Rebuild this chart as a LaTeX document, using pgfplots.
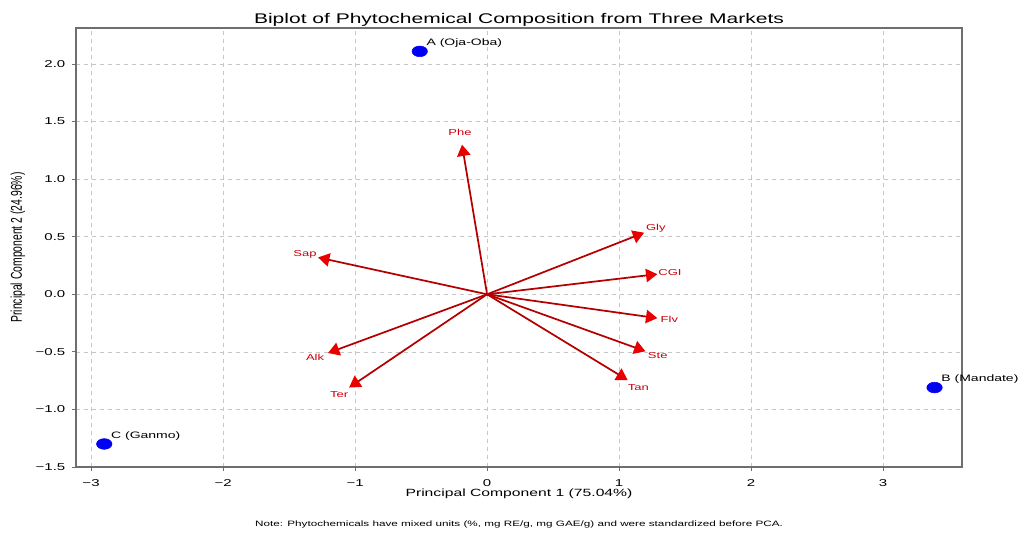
\documentclass[border=0pt]{standalone}
\usepackage{fontspec}
\setmainfont[FakeStretch=1.5]{Liberation Sans}
\newfontfamily\plainsans{Liberation Sans}
\usepackage{graphicx}
\usepackage{pgfplots}
\usepackage{pgfplotstable}
\pgfplotsset{compat=1.18}
\usetikzlibrary{arrows.meta}
\definecolor{shaft}{RGB}{180,0,0}
\definecolor{headred}{RGB}{232,0,0}
\definecolor{lblred}{RGB}{205,0,10}
\definecolor{ptblue}{RGB}{0,0,245}
\definecolor{frame}{RGB}{110,110,110}

\pgfplotstableread{
x y name
-0.51 2.11 {A (Oja-Oba)}
3.39 -0.81 {B (Mandate)}
-2.90 -1.30 {C (Ganmo)}
}\markets

\pgfplotstableread{
x y u v
0 0 -0.19 1.30
0 0 1.19 0.535
0 0 1.29 0.175
0 0 1.29 -0.207
0 0 1.20 -0.495
0 0 1.065 -0.745
0 0 -1.045 -0.81
0 0 -1.205 -0.51
0 0 -1.28 0.32
}\loadings

\pgfplotstableread{
x y name
-0.205 1.403 Phe
1.278 0.571 Gly
1.386 0.188 CGI
1.381 -0.220 Flv
1.293 -0.536 Ste
1.146 -0.806 Tan
-1.121 -0.870 Ter
-1.303 -0.545 Alk
-1.379 0.348 Sap
}\loadlabels

\begin{document}
\begin{tikzpicture}
\useasboundingbox (0,0) rectangle (765pt,399pt);
\begin{axis}[
  at={(57pt,48.75pt)}, anchor=south west,
  width=664.5pt, height=329.25pt, scale only axis,
  xmin=-3.114, xmax=3.598, ymin=-1.5, ymax=2.313,
  xtick={-3,-2,-1,0,1,2,3},
  xticklabels={−3,−2,−1,0,1,2,3},
  ytick={-1.5,-1,-0.5,0,0.5,1,1.5,2},
  yticklabels={−1.5,−1.0,−0.5,0.0,0.5,1.0,1.5,2.0},
  tick align=outside, tick pos=left, major tick length=3pt,
  grid=major,
  major grid style={dashed, gray!45, line width=0.5pt},
  axis line style={frame, line width=1pt},
  tick style={frame, line width=0.6pt},
  ticklabel style={font=\fontsize{7.5}{9}\selectfont},
  xticklabel style={yshift=-3pt},
  yticklabel style={xshift=-1.5pt},
  title={Biplot of Phytochemical Composition from Three Markets},
  title style={at={(0.5,1)}, anchor=base, yshift=-3pt, font=\fontsize{10.5}{12}\selectfont},
  xlabel={Principal Component 1 (75.04\%)},
  xlabel style={at={(0.5,-0.0683)}, anchor=base, font=\fontsize{7.85}{9}\selectfont},
  ylabel={\plainsans\fontsize{7.8}{9}\selectfont\scalebox{1}[1.5]{Principal Component 2 (24.96\%)}},
  ylabel style={at={(-0.0655,0.5)}, anchor=center},
  clip=false,
]
\addplot[quiver={u=\thisrow{u}, v=\thisrow{v}},
  draw=shaft, line width=1.3pt,
  -{Triangle[length=8.5pt, width=10pt, color=headred]}]
  table {\loadings};

\addplot[only marks, mark=none,
  nodes near coords, point meta=explicit symbolic,
  every node near coord/.append style={anchor=center, inner sep=0pt, text=lblred, font=\fontsize{6.5}{7}\selectfont}]
  table[meta=name] {\loadlabels};

\addplot[only marks, mark=*, mark size=4pt,
  mark options={xscale=1.45, fill=ptblue, draw=ptblue},
  nodes near coords, point meta=explicit symbolic,
  every node near coord/.append style={anchor=base west, inner sep=0pt, xshift=4.95pt, yshift=4.3pt, text=black, font=\fontsize{7}{8}\selectfont}]
  table[meta=name] {\markets};
\end{axis}
\node[font=\fontsize{5.85}{7}\selectfont, anchor=center] at (389.25pt,6pt)
  {Note: Phytochemicals have mixed units (\%, mg RE/g, mg GAE/g) and were standardized before PCA.};
\end{tikzpicture}
\end{document}
